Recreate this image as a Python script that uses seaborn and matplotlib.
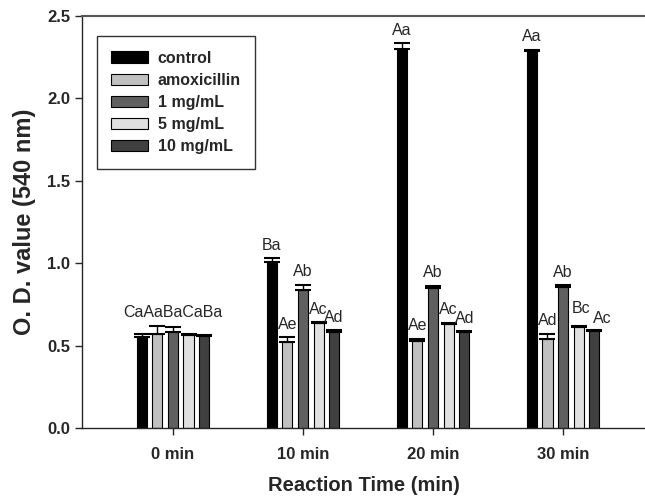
import numpy as np
import pandas as pd
import matplotlib
matplotlib.use("Agg")
import matplotlib.pyplot as plt
import seaborn as sns

# Data
times = ["0 min", "10 min", "20 min", "30 min"]
treatments = ["control", "amoxicillin", "1 mg/mL", "5 mg/mL", "10 mg/mL"]
control = [0.55, 1.01, 2.30, 2.29]
amoxicillin = [0.57, 0.52, 0.53, 0.54]
mg1 = [0.58, 0.84, 0.85, 0.855]
mg5 = [0.565, 0.636, 0.633, 0.61]
mg10 = [0.56, 0.58, 0.58, 0.588]
control_err = [0.02, 0.02, 0.035, 0.005]
amoxicillin_err = [0.05, 0.03, 0.01, 0.03]
mg1_err = [0.03, 0.03, 0.012, 0.01]
mg5_err = [0.008, 0.004, 0.004, 0.008]
mg10_err = [0.005, 0.012, 0.008, 0.004]
letters = [
    ["Ca", "Aa", "Ba", "Ca", "Ba"],
    ["Ba", "Ae", "Ab", "Ac", "Ad"],
    ["Aa", "Ae", "Ab", "Ac", "Ad"],
    ["Aa", "Ad", "Ab", "Bc", "Ac"],
]

colors = ["#000000", "#c0c0c0", "#606060", "#e0e0e0", "#404040"]

values = [control, amoxicillin, mg1, mg5, mg10]
errors = [control_err, amoxicillin_err, mg1_err, mg5_err, mg10_err]

# a few letters were nudged in the original (points: dx, dy)
nudge = {(3, 3): (2, 7), (3, 4): (6, 3)}

rows = []
for t_i, t in enumerate(times):
    for s_i, s in enumerate(treatments):
        rows.append({"time": t, "treatment": s,
                     "od": values[s_i][t_i], "err": errors[s_i][t_i]})
df = pd.DataFrame(rows)

sns.set_style("ticks")
plt.rcParams["font.family"] = ["Liberation Sans", "DejaVu Sans"]

fig = plt.figure(figsize=(6.45, 4.98), dpi=100)
ax = fig.add_axes([0.127, 0.1406, 0.873, 0.8274])

sns.barplot(data=df, x="time", y="od", hue="treatment", order=times,
            hue_order=treatments, palette=colors, width=0.6, gap=0.35,
            edgecolor="black", linewidth=0.8, errorbar=None, ax=ax,
            saturation=1)

# error bars (upper only) and significance letters
bar_containers = list(ax.containers)
for s_i, container in enumerate(bar_containers):
    for t_i, bar in enumerate(container.patches):
        x = bar.get_x() + bar.get_width() / 2
        h = bar.get_height()
        e = errors[s_i][t_i]
        ax.errorbar(x, h, yerr=[[0], [e]], fmt="none", ecolor="black",
                    elinewidth=1, capsize=5.5, capthick=1.5)
        if t_i > 0:
            dx, dy = nudge.get((t_i, s_i), (0, 4))
            ax.annotate(letters[t_i][s_i], (x, h + e), xytext=(dx, dy),
                        textcoords="offset points", ha="center",
                        va="bottom", fontsize=11.5)

# crowded first group: one joined label
top0 = max(values[s][0] + errors[s][0] for s in range(len(treatments)))
ax.annotate("".join(letters[0]), (0, top0), xytext=(0, 4),
            textcoords="offset points", ha="center", va="bottom", fontsize=11.5)

ax.set_xlim(-0.7, 3.63)
ax.set_ylim(0, 2.5)
ax.set_yticks([0, 0.5, 1.0, 1.5, 2.0, 2.5])
ax.set_yticklabels(["0.0", "0.5", "1.0", "1.5", "2.0", "2.5"])
ax.tick_params(axis="both", labelsize=12, length=5, width=1, direction="out")
ax.tick_params(axis="x", pad=9)
for lab in ax.get_xticklabels() + ax.get_yticklabels():
    lab.set_fontweight("bold")

ax.set_xlabel("Reaction Time (min)", fontsize=14.5, fontweight="bold", labelpad=10)
ax.set_ylabel("O. D. value (540 nm)", fontsize=17, fontweight="bold", labelpad=8)

ax.spines["right"].set_visible(False)
ax.spines["top"].set_color("#555555")
ax.spines["top"].set_linewidth(1.5)
ax.spines["left"].set_linewidth(1)
ax.spines["bottom"].set_linewidth(1)

leg = ax.legend(loc="upper left", bbox_to_anchor=(0.027, 0.951),
                frameon=True, fancybox=False, edgecolor="black",
                handlelength=2.3, handleheight=0.7, labelspacing=0.45,
                borderpad=0.9, handletextpad=0.6, borderaxespad=0,
                prop={"size": 11.5, "weight": "bold"})
leg.get_frame().set_linewidth(1)

fig.savefig("out.png", dpi=100)
